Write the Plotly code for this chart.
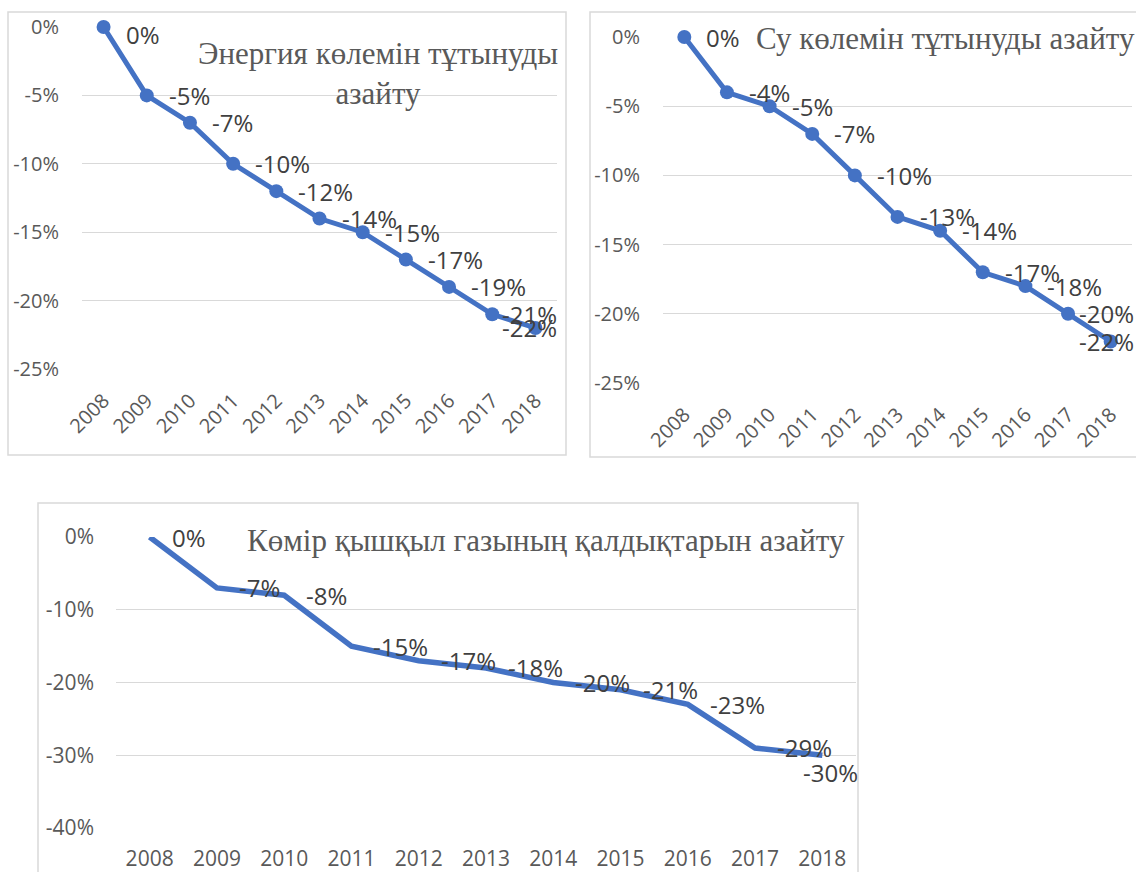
import plotly.graph_objects as go

# ---------------- data ----------------
years = ["2008", "2009", "2010", "2011", "2012", "2013", "2014", "2015", "2016", "2017", "2018"]

energy = [0, -5, -7, -10, -12, -14, -15, -17, -19, -21, -22]
water = [0, -4, -5, -7, -10, -13, -14, -17, -18, -20, -22]
co2 = [0, -7, -8, -15, -17, -18, -20, -21, -23, -29, -30]

title_energy = "Энергия көлемін тұтынуды<br>азайту"
title_water = "Су көлемін тұтынуды азайту"
title_co2 = "Көмір қышқыл газының қалдықтарын азайту"

ticks_25 = [0, -5, -10, -15, -20, -25]
ticktext_25 = ["0%", "-5%", "-10%", "-15%", "-20%", "-25%"]
ticks_40 = [0, -10, -20, -30, -40]
ticktext_40 = ["0%", "-10%", "-20%", "-30%", "-40%"]

# ---------------- style ----------------
W, H = 1136, 872
BLUE = "#4472C4"
GRID = "#d9d9d9"
TICK_COL = "#595959"
LABEL_COL = "#404040"
SANS = "Open Sans"
SERIF = "Liberation Serif"


def px(xp):
    return xp / W


def py(yp):
    return 1 - yp / H


fig = go.Figure()

fig.add_trace(go.Scatter(x=years, y=energy, mode="lines+markers", xaxis="x", yaxis="y",
                         line=dict(color=BLUE, width=5), marker=dict(color=BLUE, size=14),
                         cliponaxis=False, showlegend=False))
fig.add_trace(go.Scatter(x=years, y=water, mode="lines+markers", xaxis="x2", yaxis="y2",
                         line=dict(color=BLUE, width=5), marker=dict(color=BLUE, size=14),
                         cliponaxis=False, showlegend=False))
fig.add_trace(go.Scatter(x=years, y=co2, mode="lines", xaxis="x3", yaxis="y3",
                         line=dict(color=BLUE, width=5.5),
                         cliponaxis=False, showlegend=False))

xcommon = dict(type="category", range=[-0.5, 10.5], showgrid=False, zeroline=False,
               showline=False, tickfont=dict(family=SANS, size=20, color=TICK_COL),
               ticks="", fixedrange=True, automargin=False)
ycommon = dict(showgrid=True, gridcolor=GRID, gridwidth=1.3, zeroline=False, showline=False,
               tickfont=dict(family=SANS, size=20, color=TICK_COL), ticks="", fixedrange=True,
               automargin=False)

layout = dict(
    width=W, height=H, autosize=False,
    margin=dict(l=0, r=0, t=0, b=0, pad=0, autoexpand=False),
    paper_bgcolor="white", plot_bgcolor="white",
    showlegend=False,
    xaxis=dict(xcommon, domain=[px(82), px(557)], anchor="y", tickangle=-45,
               ticklabelstandoff=15),
    yaxis=dict(ycommon, domain=[py(369), py(27)], anchor="x", range=[-25, 0],
               tickvals=ticks_25, ticktext=ticktext_25, ticklabelstandoff=22),
    xaxis2=dict(xcommon, domain=[px(663), px(1132)], anchor="y2", tickangle=-45,
                ticklabelstandoff=15),
    yaxis2=dict(ycommon, domain=[py(383), py(37)], anchor="x2", range=[-25, 0],
                tickvals=ticks_25, ticktext=ticktext_25, ticklabelstandoff=22),
    xaxis3=dict(xcommon, domain=[px(116), px(856)], anchor="y3", tickangle=0,
                tickfont=dict(family=SANS, size=21, color=TICK_COL), ticklabelstandoff=16),
    yaxis3=dict(ycommon, domain=[py(828), py(537)], anchor="x3", range=[-40, 0],
                tickvals=ticks_40, ticktext=ticktext_40, ticklabelstandoff=21,
                tickfont=dict(family=SANS, size=21, color=TICK_COL)),
)
fig.update_layout(**layout)

# chart borders
for (x0, y0, x1, y1) in [(8, 12, 566, 455), (590, 12, 1145, 457), (38, 503, 858, 885)]:
    fig.add_shape(type="rect", xref="paper", yref="paper",
                  x0=px(x0), x1=px(x1), y0=py(y0), y1=py(y1),
                  line=dict(color=GRID, width=1.5), fillcolor="rgba(0,0,0,0)", layer="below")

annotations = []


def add_labels(values, xref, yref, size, clamp=None, clamp_right=None, shifts=None):
    clamp = clamp or []
    shifts = shifts or {}
    for i, v in enumerate(values):
        txt = f"{v}%"
        ys = shifts.get(i, 0)
        if i in clamp:
            annotations.append(dict(x=px(clamp_right), y=v, xref="paper", yref=yref,
                                    text=txt, showarrow=False, xanchor="right", yanchor="middle",
                                    yshift=ys, font=dict(family=SANS, size=size, color=LABEL_COL)))
        else:
            annotations.append(dict(x=i, y=v, xref=xref, yref=yref, text=txt,
                                    showarrow=False, xanchor="left", yanchor="middle",
                                    xshift=20, yshift=ys,
                                    font=dict(family=SANS, size=size, color=LABEL_COL)))


add_labels(energy, "x", "y", 24, clamp=[9, 10], clamp_right=559, shifts={0: -8})
add_labels(water, "x2", "y2", 24, clamp=[9, 10], clamp_right=1136)
add_labels(co2, "x3", "y3", 24, clamp=[10], clamp_right=860, shifts={10: -17})

# titles
annotations.append(dict(x=px(378), y=py(74), xref="paper", yref="paper", text=title_energy,
                        showarrow=False, xanchor="center", yanchor="middle", align="center",
                        font=dict(family=SERIF, size=31, color=TICK_COL)))
annotations.append(dict(x=px(945), y=py(38), xref="paper", yref="paper", text=title_water,
                        showarrow=False, xanchor="center", yanchor="middle",
                        font=dict(family=SERIF, size=31, color=TICK_COL)))
annotations.append(dict(x=px(546), y=py(540), xref="paper", yref="paper", text=title_co2,
                        showarrow=False, xanchor="center", yanchor="middle",
                        font=dict(family=SERIF, size=31, color=TICK_COL)))

fig.update_layout(annotations=annotations)

fig.write_html("out.html", config={"displayModeBar": False},
               post_script="document.body.style.margin='0';")
